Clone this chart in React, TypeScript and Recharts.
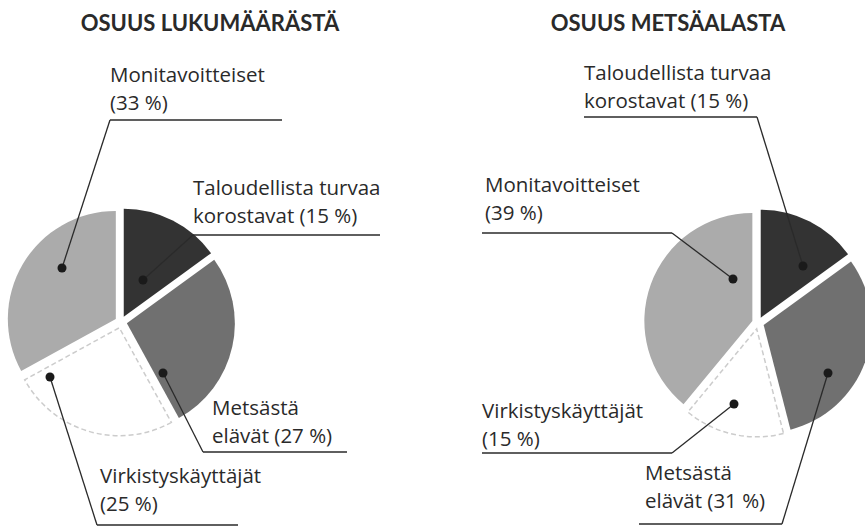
import React from "react";
import { PieChart, Pie, Cell, Sector } from "recharts";

const categories = [
  "Taloudellista turvaa korostavat",
  "Metsästä elävät",
  "Virkistyskäyttäjät",
  "Monitavoitteiset",
];
const countShare = [15, 27, 25, 33];
const areaShare = [15, 31, 15, 39];
const titles = ["OSUUS LUKUMÄÄRÄSTÄ", "OSUUS METSÄALASTA"];

// how each category name is broken over the two label lines
const labelLines = [
  ["Taloudellista turvaa", "korostavat"],
  ["Metsästä", "elävät"],
  ["Virkistyskäyttäjät", ""],
  ["Monitavoitteiset", ""],
];

const fills = ["#333333", "#707070", "#ffffff", "#ababab"];
const TITLE_FONT = "Lato, 'Open Sans', sans-serif";
const FONT = "'Open Sans', Lato, sans-serif";
const EXPLODE = 6;
const RADIAN = Math.PI / 180;

type Note = {
  dot: [number, number]; // relative to pie centre
  x: number;
  y: number;
  lineY: number;
  lineX1: number;
  lineX2: number;
  elbow: "left" | "right";
};

const leftNotes: Note[] = [
  { dot: [22, -42], x: 193, y: 195, lineY: 235, lineX1: 193, lineX2: 380, elbow: "left" },
  { dot: [42, 51], x: 212, y: 415, lineY: 452, lineX1: 203, lineX2: 347, elbow: "left" },
  { dot: [-71, 55], x: 100, y: 483, lineY: 525, lineX1: 97, lineX2: 238, elbow: "left" },
  { dot: [-59, -54], x: 110, y: 82, lineY: 120, lineX1: 110, lineX2: 282, elbow: "left" },
];

const rightNotes: Note[] = [
  { dot: [45, -57], x: 584, y: 80, lineY: 117, lineX1: 584, lineX2: 757, elbow: "right" },
  { dot: [70, 50], x: 645, y: 480, lineY: 524, lineX1: 639, lineX2: 782, elbow: "right" },
  { dot: [-24, 81], x: 482, y: 418, lineY: 453, lineX1: 482, lineX2: 672, elbow: "right" },
  { dot: [-25, -44], x: 485, y: 192, lineY: 233, lineX1: 482, lineX2: 672, elbow: "right" },
];

const countData = categories.map((name, i) => ({ name, value: countShare[i] }));
const areaData = categories.map((name, i) => ({ name, value: areaShare[i] }));

// pulls each slice a little out from the centre
const ExplodedSector = (props: any) => {
  const dx = EXPLODE * Math.cos(-props.midAngle * RADIAN);
  const dy = EXPLODE * Math.sin(-props.midAngle * RADIAN);
  return <Sector {...props} cx={props.cx + dx} cy={props.cy + dy} />;
};

const makeLabel = (notes: Note[]) => (props: any) => {
  const { cx, cy, index, value } = props;
  const n = notes[index];
  const dotX = cx + n.dot[0];
  const dotY = cy + n.dot[1];
  const elbowX = n.elbow === "left" ? n.lineX1 : n.lineX2;
  const [l1, l2] = labelLines[index];
  const second = `${l2 ? l2 + " " : ""}(${value} %)`;
  return (
    <g key={`note-${index}`}>
      <line x1={n.lineX1} x2={n.lineX2} y1={n.lineY} y2={n.lineY} stroke="#2a2a2a" strokeWidth={1.3} />
      <line x1={elbowX} y1={n.lineY} x2={dotX} y2={dotY} stroke="#2a2a2a" strokeWidth={1.3} />
      <circle cx={dotX} cy={dotY} r={4.5} fill="#1a1a1a" />
      <text x={n.x} y={n.y} fill="#2a2a2a" fontSize={20.5} fontFamily={FONT}>
        <tspan x={n.x}>{l1}</tspan>
        <tspan x={n.x} dy={28}>{second}</tspan>
      </text>
    </g>
  );
};

const titleStyle: React.CSSProperties = {
  position: "absolute",
  top: 12,
  width: 300,
  textAlign: "center",
  fontFamily: TITLE_FONT,
  fontWeight: 700,
  fontSize: 22,
  lineHeight: "22px",
  color: "#2a2a2a",
};

export default function App() {
  return (
    <div style={{ position: "absolute", left: 0, top: 0, width: 865, height: 526, background: "#fff", overflow: "hidden" }}>
      <div style={{ ...titleStyle, left: 210 - 150 }}>{titles[0]}</div>
      <div style={{ ...titleStyle, left: 668 - 150 }}>{titles[1]}</div>
      <PieChart width={865} height={526} margin={{ top: 0, right: 0, bottom: 0, left: 0 }}>
        <Pie
          data={countData}
          dataKey="value"
          nameKey="name"
          cx={121}
          cy={322}
          outerRadius={108}
          startAngle={90}
          endAngle={-270}
          isAnimationActive={false}
          shape={ExplodedSector}
          label={makeLabel(leftNotes)}
          labelLine={false}
        >
          {countData.map((d, i) => (
            <Cell
              key={d.name}
              fill={fills[i]}
              stroke={i === 2 ? "#cccccc" : "none"}
              strokeWidth={i === 2 ? 1.5 : 0}
              strokeDasharray={i === 2 ? "5 3" : undefined}
            />
          ))}
        </Pie>
        <Pie
          data={areaData}
          dataKey="value"
          nameKey="name"
          cx={758}
          cy={323}
          outerRadius={108}
          startAngle={90}
          endAngle={-270}
          isAnimationActive={false}
          shape={ExplodedSector}
          label={makeLabel(rightNotes)}
          labelLine={false}
        >
          {areaData.map((d, i) => (
            <Cell
              key={d.name}
              fill={fills[i]}
              stroke={i === 2 ? "#cccccc" : "none"}
              strokeWidth={i === 2 ? 1.5 : 0}
              strokeDasharray={i === 2 ? "5 3" : undefined}
            />
          ))}
        </Pie>
      </PieChart>
    </div>
  );
}
